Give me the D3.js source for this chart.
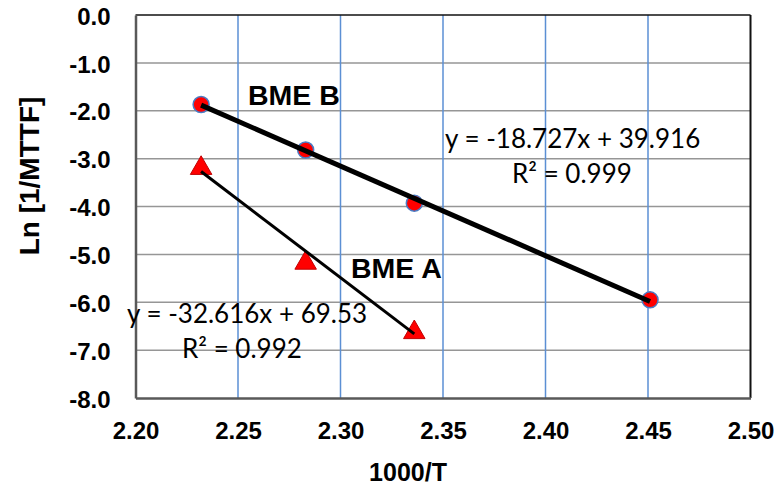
<!DOCTYPE html>
<html>
<head>
<meta charset="utf-8">
<script src="https://cdn.jsdelivr.net/npm/d3@7"></script>
<style>
  body { margin: 0; background: #fff; }
  svg { display: block; }
</style>
</head>
<body>
<svg id="chart" width="777" height="491"></svg>
<script>
// data
const bmeB_x = [2.232, 2.283, 2.336, 2.451];
const bmeB_y = [-1.87, -2.82, -3.93, -5.95];
const bmeA_x = [2.232, 2.283, 2.336];
const bmeA_y = [-3.2, -5.18, -6.63];

// trendline coefficients as printed
const fitB = { slope: -18.727, intercept: 39.916, r2: "0.999" };
const fitA = { slope: -32.616, intercept: 69.53, r2: "0.992" };

const xTicks = [2.20, 2.25, 2.30, 2.35, 2.40, 2.45, 2.50];
const yTicks = [0, -1, -2, -3, -4, -5, -6, -7, -8];

const svg = d3.select("#chart");
const plotL = 135.5, plotR = 750.5, plotT = 15, plotB = 398;

const x = d3.scaleLinear().domain([2.20, 2.50]).range([plotL, plotR]);
const y = d3.scaleLinear().domain([0, -8]).range([plotT, plotB]);

const boldFont = "'Liberation Sans', Arial, sans-serif";
const eqFont = "Lato, 'Open Sans', sans-serif";

// excel style: plain hyphen, not unicode minus
const fmt1 = d => d.toFixed(1);
const fmt2 = d => d.toFixed(2);

// horizontal grid (grey)
svg.append("g")
    .selectAll("line")
    .data(yTicks.slice(1, -1))
    .enter().append("line")
    .attr("x1", plotL).attr("x2", plotR)
    .attr("y1", d => y(d)).attr("y2", d => y(d))
    .attr("stroke", "#969696")
    .attr("stroke-width", 1.5);

// vertical grid (blue)
svg.append("g")
    .selectAll("line")
    .data(xTicks.slice(1, -1))
    .enter().append("line")
    .attr("x1", d => x(d)).attr("x2", d => x(d))
    .attr("y1", plotT).attr("y2", plotB)
    .attr("stroke", "#5b8fd4")
    .attr("stroke-width", 1.5);

// top and right border
svg.append("line")
    .attr("x1", plotL).attr("x2", plotR).attr("y1", plotT).attr("y2", plotT)
    .attr("stroke", "#111").attr("stroke-width", 1.5);
svg.append("line")
    .attr("x1", plotR).attr("x2", plotR).attr("y1", plotT).attr("y2", plotB)
    .attr("stroke", "#111").attr("stroke-width", 2);

// axes
const xAxis = svg.append("g")
    .attr("transform", `translate(0,${plotB})`)
    .call(d3.axisBottom(x).tickValues(xTicks).tickFormat(fmt2).tickSize(0).tickPadding(24));
const yAxis = svg.append("g")
    .attr("transform", `translate(${plotL},0)`)
    .call(d3.axisLeft(y).tickValues(yTicks).tickFormat(fmt1).tickSize(0).tickPadding(25));

[xAxis, yAxis].forEach(ax => {
    ax.select(".domain").attr("stroke", "#595959").attr("stroke-width", 2.5);
    ax.selectAll("text")
        .attr("font-family", boldFont)
        .attr("font-weight", "bold")
        .attr("font-size", "24px")
        .attr("fill", "#000");
});
yAxis.selectAll("text").attr("dy", "0.38em");

// axis titles
svg.append("text")
    .attr("x", 408).attr("y", 481)
    .attr("text-anchor", "middle")
    .attr("font-family", boldFont).attr("font-weight", "bold").attr("font-size", "25px")
    .text("1000/T");
svg.append("text")
    .attr("transform", "translate(39,176) rotate(-90)")
    .attr("text-anchor", "middle")
    .attr("font-family", boldFont).attr("font-weight", "bold").attr("font-size", "28px")
    .text("Ln [1/MTTF]");

// markers
svg.append("g")
    .selectAll("circle")
    .data(bmeB_x.map((d, i) => [d, bmeB_y[i]]))
    .enter().append("circle")
    .attr("cx", d => x(d[0])).attr("cy", d => y(d[1]))
    .attr("r", 8)
    .attr("fill", "#ff0000")
    .attr("stroke", "#4a7cc4")
    .attr("stroke-width", 1.5);

const tri = d3.symbol().type(d3.symbolTriangle).size(200);
svg.append("g")
    .selectAll("path")
    .data(bmeA_x.map((d, i) => [d, bmeA_y[i]]))
    .enter().append("path")
    .attr("d", tri)
    .attr("transform", d => `translate(${x(d[0])},${y(d[1])})`)
    .attr("fill", "#ff0000")
    .attr("stroke", "#c00000")
    .attr("stroke-width", 1);

// trendlines drawn over markers
function trend(xs, fit, w) {
    const x0 = d3.min(xs), x1 = d3.max(xs);
    svg.append("line")
        .attr("x1", x(x0)).attr("y1", y(fit.slope * x0 + fit.intercept))
        .attr("x2", x(x1)).attr("y2", y(fit.slope * x1 + fit.intercept))
        .attr("stroke", "#000")
        .attr("stroke-width", w);
}
trend(bmeB_x, fitB, 5);
trend(bmeA_x, fitA, 3);

// series labels
svg.append("text").attr("x", 248).attr("y", 105)
    .attr("font-family", boldFont).attr("font-weight", "bold").attr("font-size", "28.5px")
    .text("BME B");
svg.append("text").attr("x", 351).attr("y", 278)
    .attr("font-family", boldFont).attr("font-weight", "bold").attr("font-size", "28.5px")
    .text("BME A");

// equations
function eq(fit, xPos, yPos, rx, ry) {
    const sign = fit.intercept >= 0 ? "+" : "-";
    svg.append("text").attr("x", xPos).attr("y", yPos)
        .attr("font-family", eqFont).attr("font-size", "26px")
        .text(`y = ${fit.slope}x ${sign} ${Math.abs(fit.intercept)}`);
    svg.append("text").attr("x", rx).attr("y", ry)
        .attr("font-family", eqFont).attr("font-size", "26px")
        .text(`R² = ${fit.r2}`);
}
eq(fitB, 445, 148, 512, 183);
eq(fitA, 127, 323, 182, 358);
</script>
</body>
</html>
